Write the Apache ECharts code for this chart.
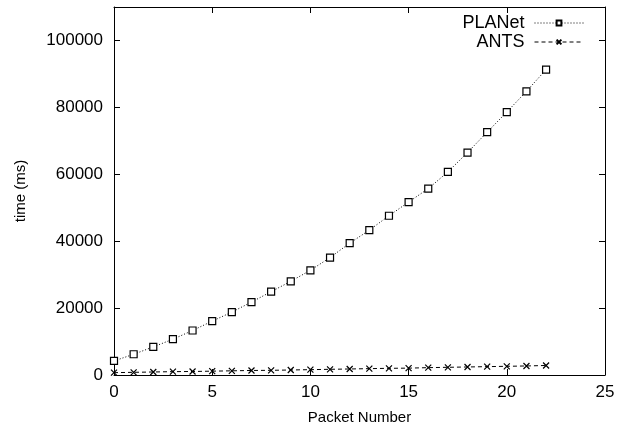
<!DOCTYPE html>
<html>
<head>
<meta charset="utf-8">
<script src="https://cdn.jsdelivr.net/npm/echarts@6/dist/echarts.min.js"></script>
<style>
  html, body { margin: 0; padding: 0; background: #fff; }
  #chart { width: 625px; height: 432px; }
</style>
</head>
<body>
<div id="chart"></div>
<script>
// packet index 0..22
const packets = [0, 1, 2, 3, 4, 5, 6, 7, 8, 9, 10, 11, 12, 13, 14, 15, 16, 17, 18, 19, 20, 21, 22];
// time in ms
const planet = [4200, 6200, 8400, 10700, 13300, 16100, 18800, 21800, 24900, 28000, 31300, 35100,
  39400, 43300, 47600, 51700, 55700, 60700, 66500, 72600, 78600, 84800, 91300];
const ants = [700, 800, 900, 1000, 1050, 1150, 1250, 1350, 1400, 1500, 1600, 1700,
  1800, 1900, 2000, 2050, 2200, 2300, 2400, 2500, 2600, 2700, 2850];

const font = "'Liberation Sans', Arial, sans-serif";
const black = '#000';

function pairs(ys) {
  return packets.map((x, i) => [x, ys[i]]);
}

const chart = echarts.init(document.getElementById('chart'));

// gnuplot style: ticks inside, mirrored on top/right
const xBase = {
  type: 'value',
  min: 0,
  max: 25,
  interval: 5,
  axisLine: { show: true, onZero: false, lineStyle: { color: black, width: 1 } },
  axisTick: { show: true, inside: true, length: 6, lineStyle: { color: black } },
  splitLine: { show: false }
};
const yBase = {
  type: 'value',
  min: 0,
  max: 110000,
  interval: 20000,
  axisLine: { show: true, onZero: false, lineStyle: { color: black, width: 1 } },
  axisTick: { show: true, inside: true, length: 6, lineStyle: { color: black } },
  splitLine: { show: false }
};

chart.setOption({
  animation: false,
  backgroundColor: '#fff',
  textStyle: { fontFamily: font },
  grid: { left: 114, right: 20, top: 7, bottom: 57 },
  legend: {
    orient: 'vertical',
    right: 36,
    top: 9,
    align: 'right',
    itemWidth: 49,
    itemHeight: 6,
    itemGap: 1,
    lineStyle: { width: 1 },
    textStyle: { fontFamily: font, fontSize: 18, color: black, padding: [0, 5, 0, 0] },
    data: ['PLANet', 'ANTS']
  },
  xAxis: [
    Object.assign({}, xBase, {
      position: 'bottom',
      name: 'Packet Number',
      nameLocation: 'middle',
      nameGap: 35,
      nameTextStyle: { fontFamily: font, fontSize: 15, color: black },
      axisLabel: { color: black, fontFamily: font, fontSize: 17, margin: 9 }
    }),
    Object.assign({}, xBase, { position: 'top', axisLabel: { show: false } })
  ],
  yAxis: [
    Object.assign({}, yBase, {
      position: 'left',
      name: 'time (ms)',
      nameLocation: 'middle',
      nameGap: 86,
      nameTextStyle: { fontFamily: font, fontSize: 15, color: black },
      axisLabel: {
        color: black, fontFamily: font, fontSize: 17, margin: 11, showMaxLabel: false,
        formatter: v => String(v)
      }
    }),
    Object.assign({}, yBase, { position: 'right', axisLabel: { show: false } })
  ],
  series: [
    {
      name: 'PLANet',
      type: 'line',
      data: pairs(planet),
      symbol: 'rect',
      symbolSize: 7,
      showAllSymbol: true,
      lineStyle: { color: black, width: 1, type: [1, 2] },
      itemStyle: { color: '#fff', borderColor: black, borderWidth: 1.2 },
      emphasis: { disabled: true }
    },
    {
      name: 'ANTS',
      type: 'line',
      data: pairs(ants),
      symbol: 'path://M0,0L10,10M10,0L0,10',
      symbolSize: 6,
      showAllSymbol: true,
      lineStyle: { color: black, width: 1, type: [4, 3] },
      itemStyle: { color: 'none', borderColor: black, borderWidth: 1.2 },
      emphasis: { disabled: true }
    }
  ]
});
</script>
</body>
</html>
